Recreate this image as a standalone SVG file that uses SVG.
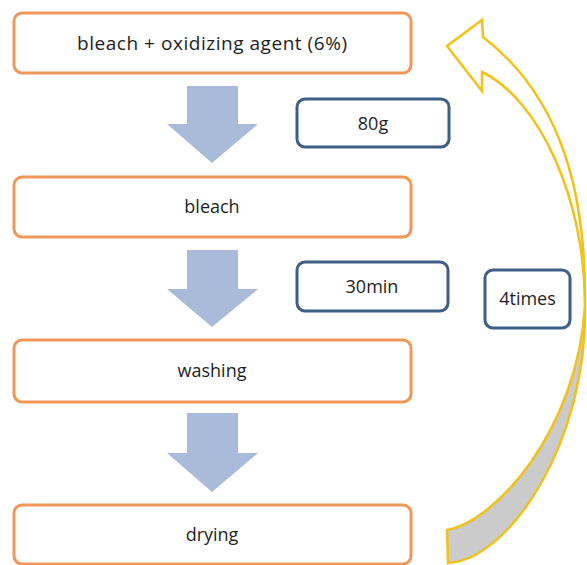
<svg xmlns="http://www.w3.org/2000/svg" width="587" height="565" viewBox="0 0 587 565">
<style>
.step{fill:#ffffff;stroke:#F0975A;stroke-width:3}
.note{fill:#ffffff;stroke:#3F5F86;stroke-width:3}
.flow{fill:#A9BBD8;stroke:none}
text{font-family:"Open Sans","Noto Sans","Liberation Sans",sans-serif;font-size:18px;fill:#1e1e1e;text-anchor:middle}
.loopFront{fill:#ffffff;stroke:#F2C11A;stroke-width:2.5;stroke-linejoin:miter}
.loopBack{fill:#CBCBCB;stroke:#F2C11A;stroke-width:2.5;stroke-linejoin:miter}
</style>
<rect width="587" height="565" fill="#ffffff"/>
<g id="connectors">
<polygon class="flow" points="187,86 238,86 238,124 258,124 212,163 167,124 187,124"/>
<polygon class="flow" points="187,250 238,250 238,289 258,289 212,327 167,289 187,289"/>
<polygon class="flow" points="187,413 238,413 238,453 258,453 212,492 167,453 187,453"/>
<g id="loop-arrow">
<path class="loopBack" d="M585,305 C588,440 510,560 448,563 L447,530 C495,522 578,430 585,305 Z"/>
<path class="loopFront" d="M483,37 L482,20 L447,46 L482,91 L482,72 C540,100 585,200 585,305 C586,200 565,100 483,37 Z"/>
</g>
</g>
<g id="node-bleach-oxidizing">
<rect class="step" x="14" y="13" width="397" height="60" rx="8"/>
<text x="212" y="50" style="font-size:19px" textLength="270" lengthAdjust="spacing">bleach + oxidizing agent (6%)</text>
</g>
<g id="node-bleach">
<rect class="step" x="14" y="177" width="397" height="60" rx="8"/>
<text x="212" y="213">bleach</text>
</g>
<g id="node-washing">
<rect class="step" x="14" y="340" width="397" height="62" rx="8"/>
<text x="212" y="377">washing</text>
</g>
<g id="node-drying">
<rect class="step" x="14" y="505" width="397" height="59" rx="8"/>
<text x="212" y="541">drying</text>
</g>
<g id="note-80g">
<rect class="note" x="297" y="99" width="152" height="48" rx="8"/>
<text x="373" y="130">80g</text>
</g>
<g id="note-30min">
<rect class="note" x="297" y="262" width="151" height="49" rx="8"/>
<text x="372" y="293">30min</text>
</g>
<g id="note-4times">
<rect class="note" x="485" y="270" width="85" height="58" rx="8"/>
<text x="527.5" y="305">4times</text>
</g>
</svg>
